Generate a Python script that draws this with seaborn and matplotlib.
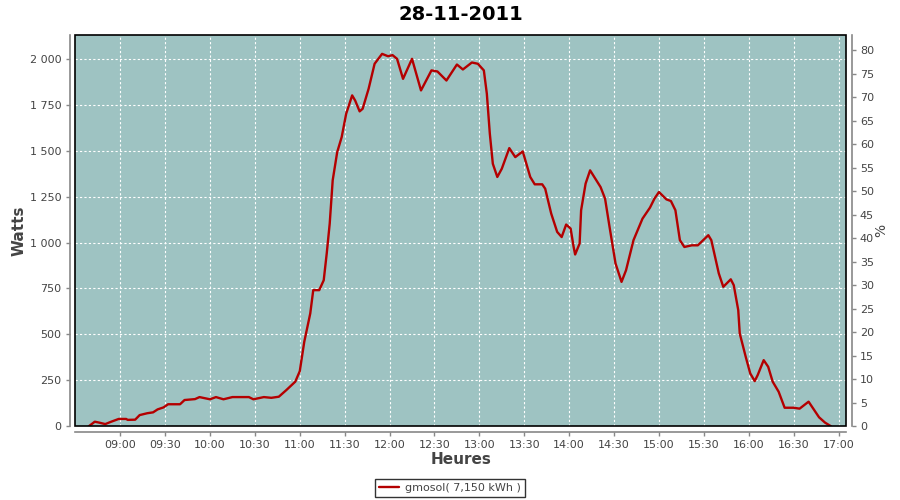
import pandas as pd
import matplotlib
matplotlib.use('Agg')
import matplotlib.pyplot as plt
import matplotlib.dates as mdates
import matplotlib.ticker as mticker
from matplotlib.patches import Rectangle
import seaborn as sns

# Values (production of 28-11-2011)
day = '2011-11-28'
times = [
    '08:39', '08:43', '08:46', '08:50', '08:54', '08:59', '09:04', '09:05', '09:10', '09:13',
    '09:18', '09:22', '09:25', '09:29', '09:32', '09:40', '09:43', '09:50', '09:53', '10:00',
    '10:04', '10:09', '10:15', '10:26', '10:29', '10:36', '10:41', '10:46', '10:51', '10:57',
    '11:00', '11:03', '11:07', '11:09', '11:13', '11:16', '11:18', '11:20', '11:22', '11:25',
    '11:28', '11:31', '11:35', '11:37', '11:40', '11:42', '11:46', '11:50', '11:55', '11:59',
    '12:02', '12:05', '12:09', '12:15', '12:21', '12:28', '12:32', '12:38', '12:41', '12:45',
    '12:49', '12:55', '12:59', '13:03', '13:05', '13:07', '13:09', '13:12', '13:15', '13:20',
    '13:24', '13:29', '13:34', '13:37', '13:42', '13:44', '13:48', '13:52', '13:55', '13:58',
    '14:01', '14:03', '14:04', '14:07', '14:08', '14:11', '14:14', '14:21', '14:24', '14:27',
    '14:31', '14:35', '14:38', '14:43', '14:49', '14:54', '14:57', '15:00', '15:05', '15:08',
    '15:11', '15:14', '15:17', '15:22', '15:26', '15:33', '15:35', '15:40', '15:43', '15:48',
    '15:50', '15:53', '15:54', '15:58', '16:01', '16:04', '16:06', '16:10', '16:13', '16:16',
    '16:20', '16:24', '16:30', '16:34', '16:40', '16:43', '16:47', '16:51', '16:55',
]
watts = [
    0, 25, 20, 12, 25, 40, 40, 35, 36, 61,
    71, 76, 92, 103, 120, 120, 143, 148, 159, 147,
    159, 147, 159, 159, 147, 159, 155, 161, 197, 243,
    300, 460, 614, 741, 741, 795, 940, 1103, 1339, 1492,
    1574, 1701, 1801, 1773, 1714, 1728, 1837, 1973, 2027, 2014,
    2020, 2000, 1891, 2000, 1828, 1937, 1931, 1882, 1919, 1969,
    1942, 1980, 1973, 1937, 1810, 1592, 1429, 1357, 1402, 1514,
    1465, 1496, 1357, 1317, 1317, 1293, 1158, 1058, 1030, 1098,
    1076, 976, 935, 995, 1176, 1321, 1393, 1302, 1239, 1085,
    886, 786, 849, 1013, 1130, 1190, 1239, 1275, 1235, 1226,
    1176, 1013, 976, 985, 985, 1040, 1013, 832, 759, 800,
    768, 632, 505, 378, 288, 246, 279, 360, 324, 243,
    188, 101, 101, 96, 134, 98, 49, 20, 0,
]
hour_ticks = ['09:00', '09:30', '10:00', '10:30', '11:00', '11:30', '12:00', '12:30', '13:00',
              '13:30', '14:00', '14:30', '15:00', '15:30', '16:00', '16:30', '17:00']
watt_ticks = [0, 250, 500, 750, 1000, 1250, 1500, 1750, 2000]
pct_ticks = list(range(0, 85, 5))
legend_label = 'gmosol( 7,150 kWh )'
peak_power = 2560  # W equivalent to 100 %

df = pd.DataFrame({'Heures': pd.to_datetime([day + ' ' + t for t in times]),
                   'Watts': watts})

sns.set_theme(style='white')
plt.rcParams['font.family'] = ['DejaVu Sans']

text_col = '#444444'
axis_col = '#888888'

fig = plt.figure(figsize=(9, 5), dpi=100)
ax = fig.add_axes([75.3 / 900, 1 - 426.3 / 500, (846 - 75.3) / 900, (426.3 - 35.3) / 500])
ax.set_facecolor('#9ec3c2')

sns.lineplot(data=df, x='Heures', y='Watts', ax=ax, color='#b40000', linewidth=1.7,
             label=legend_label, legend=False)

# axes ranges
ymax = 2128
ax.set_ylim(0, ymax)
ax.set_xlim(pd.Timestamp(day + ' 08:30'), pd.Timestamp(day + ' 17:05'))

ax.set_xticks(pd.to_datetime([day + ' ' + h for h in hour_ticks]))
ax.xaxis.set_major_formatter(mdates.DateFormatter('%H:%M'))
ax.set_yticks(watt_ticks)
ax.yaxis.set_major_formatter(mticker.FuncFormatter(lambda v, p: f'{int(v):,}'.replace(',', ' ')))

ax.grid(True, color='white', linestyle=(0, (2, 2)), linewidth=0.8)

for side in ['top', 'right']:
    ax.spines[side].set_visible(False)
for side in ['left', 'bottom']:
    ax.spines[side].set_position(('outward', 4))
    ax.spines[side].set_color(axis_col)
    ax.spines[side].set_linewidth(1.2)

ax.tick_params(axis='both', which='major', direction='out', length=3, width=1,
               color=axis_col, labelcolor=text_col, labelsize=8, pad=3,
               left=True, bottom=True)

ax.set_xlabel('Heures', fontsize=11, fontweight='bold', color=text_col)
ax.set_ylabel('Watts', fontsize=11, fontweight='bold', color=text_col)
ax.xaxis.set_label_coords(0.5, (426.3 - 452) / 391)
ax.yaxis.set_label_coords((27 - 75.3) / 770.7, 0.5)

# black border around the plot area
ax.add_patch(Rectangle((0, 0), 1, 1, transform=ax.transAxes, fill=False,
                       edgecolor='black', linewidth=1.2, clip_on=False, zorder=5))

# right-hand percentage axis
ax2 = ax.twinx()
ax2.set_ylim(0, ymax / peak_power * 100)
ax2.set_yticks(pct_ticks)
ax2.grid(False)
for side in ['top', 'left', 'bottom']:
    ax2.spines[side].set_visible(False)
ax2.spines['right'].set_position(('outward', 4))
ax2.spines['right'].set_color(axis_col)
ax2.spines['right'].set_linewidth(1.2)
ax2.tick_params(axis='y', direction='out', length=3, width=1, color=axis_col,
                labelcolor=text_col, labelsize=8, pad=3, right=True)
ax2.set_ylabel('%', fontsize=10, color=text_col)
ax2.yaxis.set_label_coords((874 - 75.3) / 770.7, 0.5)

ax.set_title('28-11-2011', fontsize=14, fontweight='bold', color='black', pad=11)

handles, labels = ax.get_legend_handles_labels()
leg = fig.legend(handles, labels, loc='center', bbox_to_anchor=(0.5, 1 - 488 / 500),
                 fontsize=8, frameon=True, fancybox=False, edgecolor='black',
                 handlelength=1.8, borderpad=0.35, handletextpad=0.5)
leg.get_frame().set_linewidth(1.0)
for t in leg.get_texts():
    t.set_color(text_col)

fig.savefig('out.png', dpi=100)
